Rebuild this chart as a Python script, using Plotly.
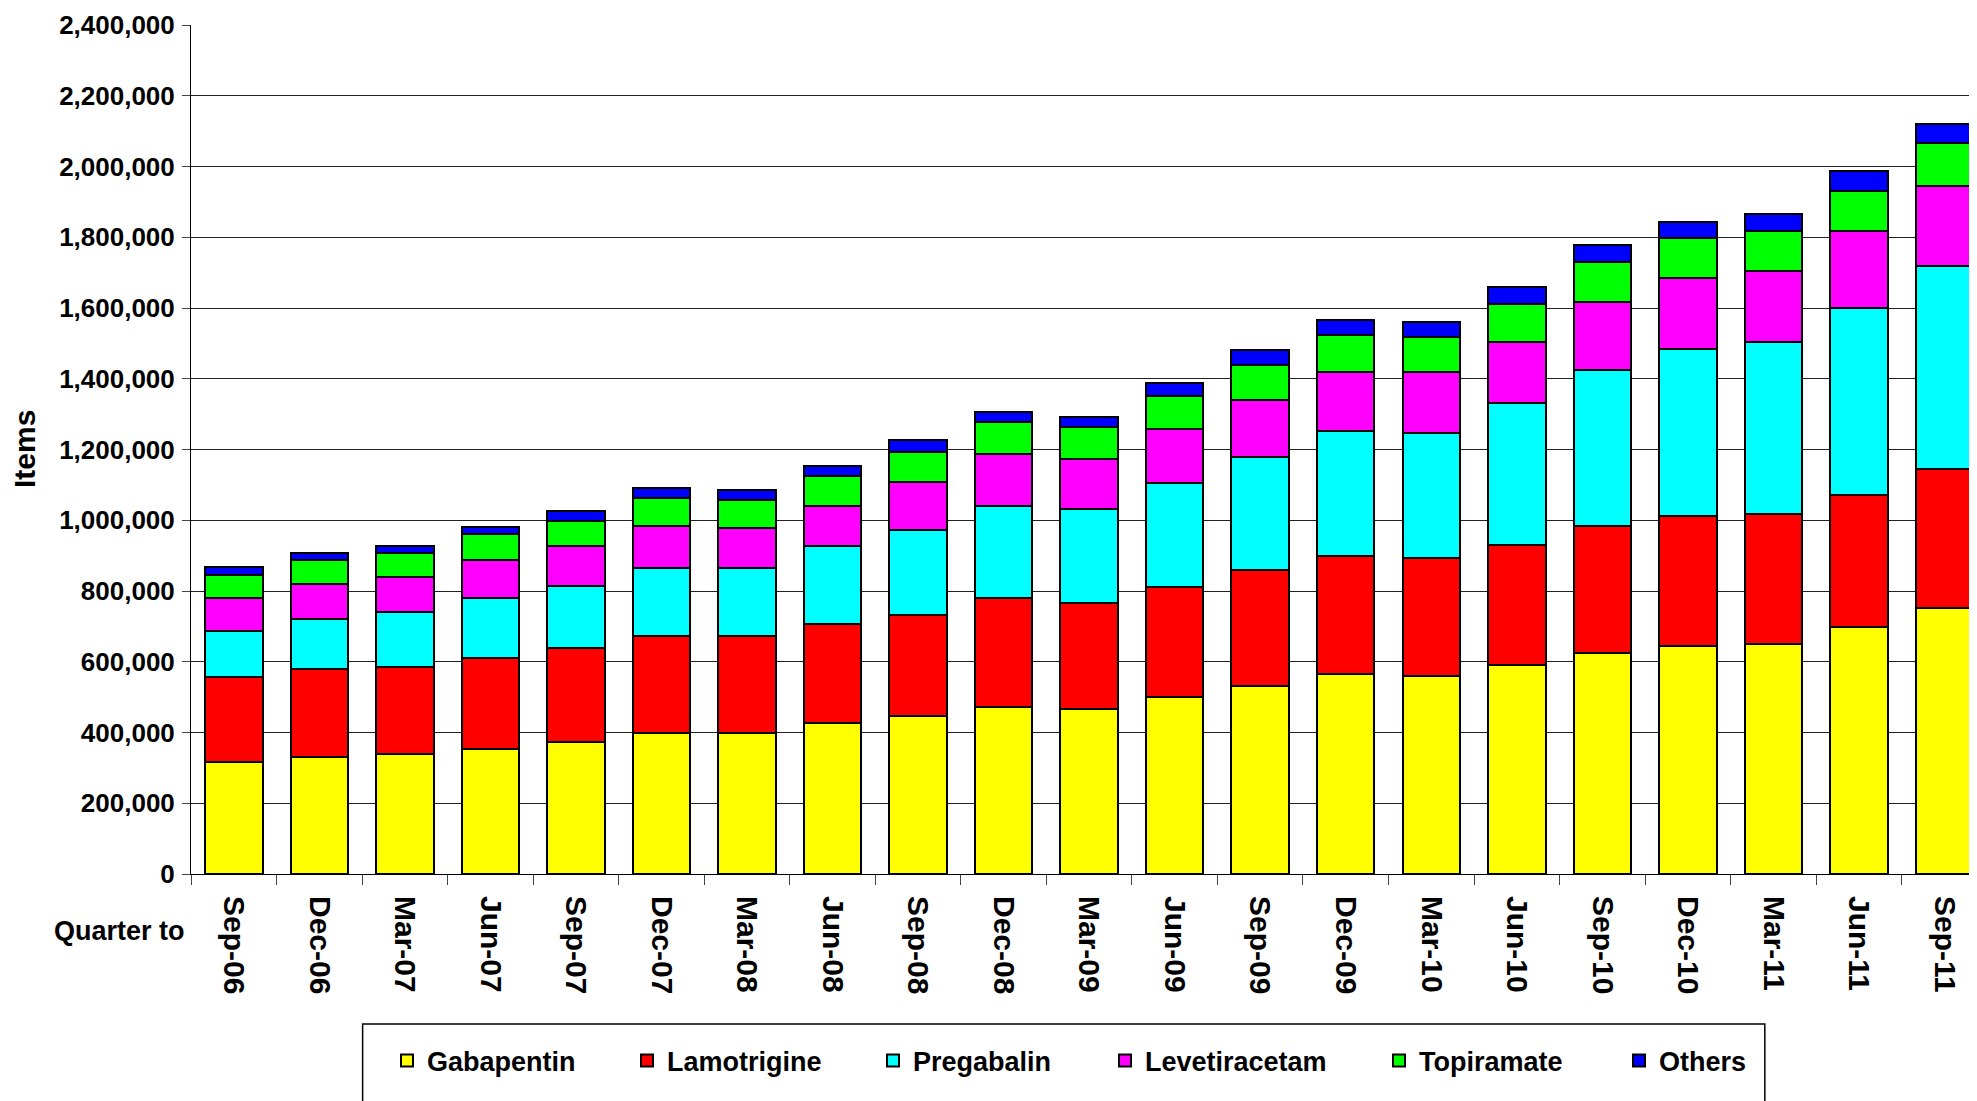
import plotly.graph_objects as go

quarters = ["Sep-06", "Dec-06", "Mar-07", "Jun-07", "Sep-07", "Dec-07", "Mar-08",
            "Jun-08", "Sep-08", "Dec-08", "Mar-09", "Jun-09", "Sep-09", "Dec-09",
            "Mar-10", "Jun-10", "Sep-10", "Dec-10", "Mar-11", "Jun-11", "Sep-11"]

gabapentin = [318000, 332000, 338000, 353000, 372000, 398000, 398000, 426000, 446000, 472000, 466000,
              499000, 532000, 565000, 560000, 591000, 626000, 645000, 650000, 699000, 751000]
lamotrigine = [240000, 247000, 247000, 259000, 268000, 276000, 276000, 281000, 287000, 307000, 300000,
               313000, 326000, 334000, 333000, 339000, 359000, 366000, 368000, 373000, 395000]
pregabalin = [129000, 141000, 155000, 167000, 173000, 192000, 192000, 219000, 240000, 260000, 265000,
              293000, 321000, 352000, 353000, 401000, 440000, 473000, 487000, 527000, 573000]
levetiracetam = [94000, 100000, 100000, 108000, 113000, 119000, 111000, 113000, 134000, 147000, 142000,
                 153000, 160000, 168000, 173000, 173000, 192000, 200000, 200000, 220000, 226000]
topiramate = [65000, 67000, 67000, 73000, 73000, 78000, 80000, 87000, 85000, 92000, 91000,
              93000, 99000, 106000, 100000, 107000, 113000, 113000, 114000, 113000, 121000]
others = [22000, 21000, 21000, 20000, 28000, 29000, 29000, 28000, 34000, 28000, 29000,
          36000, 42000, 42000, 41000, 47000, 47000, 47000, 46000, 54000, 55000]

series_names = ["Gabapentin", "Lamotrigine", "Pregabalin", "Levetiracetam", "Topiramate", "Others"]
series_values = [gabapentin, lamotrigine, pregabalin, levetiracetam, topiramate, others]
series_colors = ["#FFFF00", "#FF0000", "#00FFFF", "#FF00FF", "#00FF00", "#0000FF"]
legend_x = [379, 619, 865, 1097, 1371, 1611]   # legend entry left edges, px (figure coords)

FONT = "Liberation Sans, Arial, sans-serif"
W, H = 1969, 1093   # page body has an 8px margin

fig = go.Figure()
legends = {}
for i, (name, vals, col) in enumerate(zip(series_names, series_values, series_colors)):
    lid = "legend" if i == 0 else f"legend{i + 1}"
    fig.add_trace(go.Bar(
        x=quarters, y=vals, name=name, legend=lid,
        marker=dict(color=col, line=dict(color="black", width=2)),
    ))
    legends[lid] = dict(
        orientation="h", xref="container", yref="container",
        x=legend_x[i] / W, xanchor="left", y=1 - 1053 / H, yanchor="middle",
        font=dict(family=FONT, size=27, color="black", weight="bold"),
        bgcolor="rgba(0,0,0,0)", borderwidth=0, itemwidth=30,
    )

fig.update_layout(
    width=W, height=H,
    barmode="stack", bargap=0.328,
    plot_bgcolor="white", paper_bgcolor="white",
    margin=dict(l=183, r=0, t=17, b=227, autoexpand=False),
    font=dict(family=FONT, color="black", weight="bold"),
    showlegend=True,
    **legends,
)

fig.update_xaxes(
    type="category", range=[-0.5, 20.38], automargin=False,
    tickangle=90, tickson="boundaries", ticks="outside", ticklen=10,
    tickcolor="#444", tickwidth=1, ticklabelstandoff=15,
    showline=True, linecolor="black", linewidth=1,
    showgrid=False,
    tickfont=dict(family=FONT, size=30, color="black", weight="bold"),
)
fig.update_yaxes(
    range=[0, 2400000], dtick=200000, tickformat=",", automargin=False,
    ticks="outside", ticklen=8, tickcolor="#444", ticklabelstandoff=2,
    showline=True, linecolor="black", linewidth=1,
    showgrid=True, gridcolor="#222", gridwidth=1,
    zeroline=False,
    tickfont=dict(family=FONT, size=26, color="black", weight="bold"),
)

fig.add_annotation(
    text="Items", xref="paper", yref="paper", x=-0.0932, y=0.5,
    textangle=-90, showarrow=False, xanchor="center", yanchor="middle",
    font=dict(family=FONT, size=30, color="black", weight="bold"),
)
fig.add_annotation(
    text="Quarter to", xref="paper", yref="paper", x=-0.002, y=-0.067,
    showarrow=False, xanchor="right", yanchor="middle",
    font=dict(family=FONT, size=27, color="black", weight="bold"),
)
fig.add_shape(
    type="rect", xref="paper", yref="paper",
    x0=0.0961, x1=0.8812, y0=-0.1767, y1=-0.40,
    line=dict(color="black", width=1.5), fillcolor="rgba(0,0,0,0)", layer="below",
)

fig.write_html("out.html")
